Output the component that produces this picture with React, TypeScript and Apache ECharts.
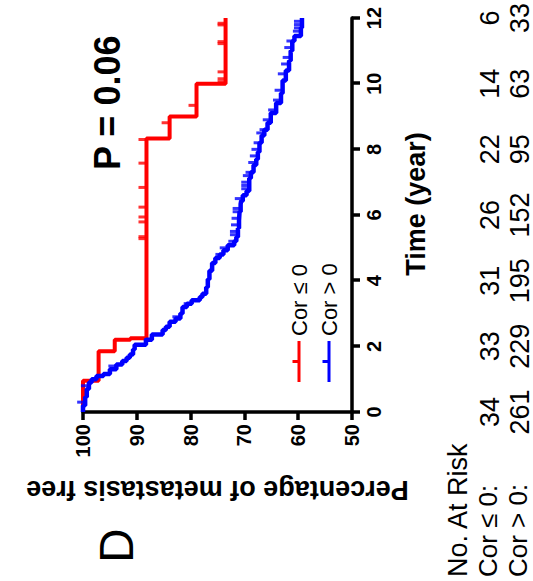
import React, { useEffect, useRef } from "react";
import * as echarts from "echarts";

const FONT = "'Liberation Sans', Arial, Helvetica, sans-serif";
const NARROW = "'Liberation Sans Narrow', 'Arial Narrow', 'Liberation Sans', Arial, sans-serif";

const riskTimes = [0, 2, 4, 6, 8, 10, 12];
const atRiskLow = [34, 33, 31, 26, 22, 14, 6];
const atRiskHigh = [261, 229, 195, 152, 95, 63, 33];

const seriesNames = ["Cor \u2264 0", "Cor > 0"];

// Cor <= 0 : KM steps (time in years, % metastasis free)
const lowTimes = [0, 0.95, 1.85, 2.2, 2.25, 8.33, 9.0, 10.0, 12.0];
const lowSurv = [100, 97.1, 94.1, 91.2, 88.2, 83.9, 78.9, 73.5, 73.5];
const lowCensor = [5.28, 5.34, 5.79, 5.94, 6.24, 6.84, 7.58, 8.3, 8.81, 9.34, 10.06, 10.15, 10.36, 11.22, 11.28, 11.79, 11.84];

// Cor > 0 : KM steps
const highTimes = [0, 0.2, 0.46, 0.7, 0.9, 1.0, 1.1, 1.16, 1.3, 1.45, 1.55, 1.65, 1.75, 1.9, 2.05, 2.2, 2.36, 2.5, 2.6, 2.75, 2.85, 3.0, 3.2, 3.3, 3.4, 3.5, 3.6, 3.8, 4.04, 4.3, 4.54, 4.69, 4.8, 4.93, 5.08, 5.2, 5.33, 5.6, 5.83, 6.1, 6.33, 6.43, 6.6, 6.73, 7.12, 7.3, 7.52, 7.7, 7.92, 8.2, 8.42, 8.6, 8.81, 9.11, 9.41, 9.71, 10.1, 10.4, 10.7, 11.0, 11.3, 11.45, 11.7, 12.0];
const highSurv = [100, 99.6, 99.3, 98.9, 98.4, 97.5, 96.2, 95.0, 93.8, 92.7, 91.9, 91.3, 90.7, 90.4, 88.3, 87.2, 85.2, 84.6, 83.9, 82.8, 81.9, 81.5, 80.7, 79.8, 78.3, 77.8, 77.1, 76.8, 76.5, 76.0, 75.4, 74.6, 73.9, 73.1, 71.9, 71.5, 71.2, 71.0, 70.9, 70.7, 70.6, 70.3, 69.6, 69.1, 68.8, 68.3, 67.8, 67.5, 67.2, 66.8, 66.3, 65.7, 65.1, 64.1, 63.2, 62.9, 62.3, 61.7, 61.4, 61.1, 60.7, 59.5, 59.3, 59.3];
const highCensor = [0.3, 0.8, 1.4, 2.2, 2.9, 3.3, 4.8, 5.0, 5.2, 5.4, 5.5, 5.7, 5.9, 6.1, 6.2, 6.5, 6.8, 6.9, 7.0, 7.2, 7.3, 7.6, 7.8, 8.0, 8.2, 8.5, 8.6, 8.9, 9.2, 9.5, 9.8, 10.3, 10.6, 10.8, 11.1, 11.3, 11.6, 11.7, 11.8, 11.9];

const RED = "#ff0000";
const BLUE = "#0000ff";

function kmAt(ts: number[], vs: number[], t: number) {
  let v = vs[0];
  for (let i = 0; i < ts.length; i++) if (ts[i] <= t) v = vs[i];
  return v;
}

export default function App() {
  const ref = useRef<HTMLDivElement>(null);
  useEffect(() => {
    if (!ref.current) return;
    const chart = echarts.init(ref.current, null, { renderer: "svg" });
    const axisLine = { show: true, onZero: false, lineStyle: { color: "#000", width: 3.5 } };
    const axisTick = { show: true, inside: false, length: 8, lineStyle: { color: "#000", width: 3.5 } };
    const riskAxis = (arr: number[], margin: number) => ({
      type: "value",
      min: 0,
      max: 12,
      interval: 2,
      position: "bottom",
      axisLine: { show: false },
      axisTick: { show: false },
      splitLine: { show: false },
      axisLabel: {
        margin,
        fontSize: 27,
        fontFamily: NARROW,
        color: "#000",
        formatter: (v: number) => {
          const i = riskTimes.indexOf(v);
          return i >= 0 ? String(arr[i]) : "";
        },
      },
    });
    const option: any = {
      animation: false,
      backgroundColor: "#fff",
      textStyle: { fontFamily: FONT },
      grid: { left: 169, right: 10, top: 83, bottom: 180, containLabel: false },
      legend: {
        data: seriesNames,
        orient: "vertical",
        left: 194,
        top: 283,
        itemWidth: 41,
        itemHeight: 13,
        itemGap: 8,
        icon: "path://M0,5h41v3h-41z M19,0h3v6h-3z M0,12.9h0.1v0.1h-0.1z",
        textStyle: { fontSize: 22, color: "#000", fontFamily: FONT },
      },
      xAxis: [
        {
          type: "value",
          min: 0,
          max: 12,
          interval: 2,
          axisLine,
          axisTick,
          splitLine: { show: false },
          axisLabel: { fontSize: 20, fontWeight: "bold", color: "#000", margin: 12, fontFamily: FONT },
          name: "Time (year)",
          nameLocation: "middle",
          nameGap: 50,
          nameTextStyle: { fontSize: 27, fontWeight: "bold", color: "#000", fontFamily: FONT, padding: [0, 0, 0, 22] },
        },
        riskAxis(atRiskLow, 124),
        riskAxis(atRiskHigh, 154),
      ],
      yAxis: {
        type: "value",
        min: 50,
        max: 100,
        interval: 10,
        axisLine,
        axisTick,
        splitLine: { show: false },
        axisLabel: { fontSize: 20, fontWeight: "bold", color: "#000", margin: 12, fontFamily: FONT },
        name: "Percentage of metastasis free",
        nameLocation: "middle",
        nameGap: 64,
        nameRotate: 90,
        nameTextStyle: { fontSize: 27, fontWeight: "bold", color: "#000", fontFamily: FONT },
      },
      graphic: [
        { type: "text", left: 18, top: 92, style: { text: "D", fontSize: 48, fill: "#000", fontFamily: FONT } },
        { type: "text", left: 411, top: 89, style: { text: "P = 0.06", fontSize: 36, fontWeight: "bold", fill: "#000", fontFamily: FONT } },
        { type: "text", left: 4, top: 444, style: { text: "No. At Risk", fontSize: 27, fill: "#000", fontFamily: FONT } },
        { type: "text", left: 4, top: 475, style: { text: "Cor \u2264 0:", fontSize: 26, fill: "#000", fontFamily: FONT } },
        { type: "text", left: 4, top: 505, style: { text: "Cor > 0:", fontSize: 26, fill: "#000", fontFamily: FONT } },
      ],
      series: [
        {
          name: seriesNames[0],
          type: "line",
          step: "end",
          symbol: "none",
          clip: false,
          color: RED,
          lineStyle: { color: RED, width: 4 },
          data: lowTimes.map((t, i) => [t, lowSurv[i]]),
          z: 2,
        },
        {
          name: seriesNames[0] + " censored",
          type: "scatter",
          symbol: "rect",
          symbolSize: [3, 8],
          symbolOffset: [0, -4],
          itemStyle: { color: RED },
          data: lowCensor.map((t) => [t, kmAt(lowTimes, lowSurv, t)]),
          z: 3,
        },
        {
          name: seriesNames[1],
          type: "line",
          step: "end",
          symbol: "none",
          clip: false,
          color: BLUE,
          lineStyle: { color: BLUE, width: 4.5 },
          data: highTimes.map((t, i) => [t, highSurv[i]]),
          z: 4,
        },
        {
          name: seriesNames[1] + " censored",
          type: "scatter",
          symbol: "rect",
          symbolSize: [3, 8],
          symbolOffset: [0, -4],
          itemStyle: { color: BLUE },
          data: highCensor.map((t) => [t, kmAt(highTimes, highSurv, t)]),
          z: 5,
        },
      ],
    };
    chart.setOption(option);
    return () => chart.dispose();
  }, []);
  return (
    <div style={{ position: "fixed", left: 0, top: 0, width: 533, height: 581, overflow: "hidden", background: "#fff" }}>
      <div
        ref={ref}
        style={{
          position: "absolute",
          left: 0,
          top: 0,
          width: 581,
          height: 533,
          transformOrigin: "0 0",
          transform: "translateY(581px) rotate(-90deg)",
        }}
      />
    </div>
  );
}
